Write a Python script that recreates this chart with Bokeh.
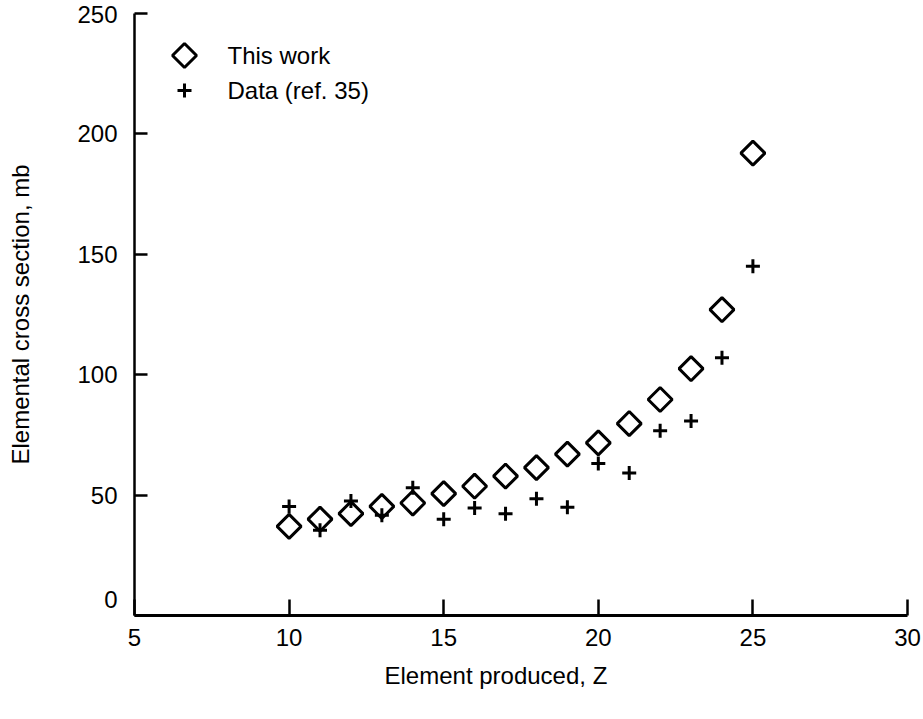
import math
from bokeh.plotting import figure
from bokeh.models import Range1d, FixedTicker, ColumnDataSource, Label, Title
from bokeh.embed import file_html
from bokeh.resources import INLINE

# ---- data ----
z_values = [10, 11, 12, 13, 14, 15, 16, 17, 18, 19, 20, 21, 22, 23, 24, 25]
this_work = [37.0, 40.0, 42.3, 45.3, 46.7, 50.6, 53.7, 57.9, 61.4, 67.0, 71.7, 79.7, 89.7, 102.5, 127.0, 192.0]
data_ref35 = [45.3, 35.4, 47.5, 41.6, 53.1, 40.0, 44.6, 42.3, 48.5, 45.0, 63.1, 59.2, 76.7, 80.8, 107.0, 145.0]
x_ticks = [5, 10, 15, 20, 25, 30]
y_ticks = [0, 50, 100, 150, 200, 250]
x_label = "Element produced, Z"
y_label = "Elemental cross section, mb"
series_names = ["This work", "Data (ref. 35)"]

FONT = "Liberation Sans"
FRAME_W, FRAME_H = 773, 602

p = figure(width=923, height=719, output_backend="svg", toolbar_location=None,
           x_range=Range1d(5, 30), y_range=Range1d(0, 250),
           min_border_left=134, min_border_right=16, min_border_top=13, min_border_bottom=104)
p.outline_line_color = None
p.xgrid.visible = False
p.ygrid.visible = False
p.background_fill_color = "white"
p.border_fill_color = "white"

diamond_style = dict(marker="square", angle=math.pi / 4, size=17,
                     fill_color=None, line_color="black", line_width=3)
plus_style = dict(marker="cross", size=14, line_color="black", line_width=3)

src = ColumnDataSource(dict(z=z_values, tw=this_work, dr=data_ref35))
p.scatter("z", "tw", source=src, **diamond_style)
p.scatter("z", "dr", source=src, **plus_style)

for ax, ticks in ((p.xaxis[0], x_ticks), (p.yaxis[0], y_ticks)):
    ax.ticker = FixedTicker(ticks=ticks)
    ax.minor_tick_line_color = None
    ax.major_tick_out = 0
    ax.axis_line_color = "black"
    ax.major_tick_line_color = "black"
    ax.major_tick_line_width = 2.5
    ax.major_label_text_font = FONT
    ax.major_label_text_font_size = "24px"
    ax.major_label_text_color = "black"
    ax.axis_label_text_font = FONT
    ax.axis_label_text_font_size = "24px"
    ax.axis_label_text_font_style = "normal"
    ax.axis_label_text_color = "black"

p.xaxis[0].major_tick_in = 16
p.xaxis[0].axis_line_width = 3
p.xaxis[0].major_label_standoff = 13

p.yaxis[0].axis_label = y_label
p.yaxis[0].major_tick_in = 13
p.yaxis[0].axis_line_width = 2.5
p.yaxis[0].major_label_standoff = 17
p.yaxis[0].axis_label_standoff = 40
# the "0" label sits slightly above its tick in the reference
p.yaxis[0].major_label_overrides = {y_ticks[0]: f"{y_ticks[0]}\n"}

# x-axis title, below the axis, slightly left of centre as in the reference
p.add_layout(Title(text=x_label, align="left", offset=250, standoff=23,
                   text_font=FONT, text_font_size="24px", text_font_style="normal",
                   text_color="black"), "below")

# ---- legend (upper left), drawn in a pixel coordinate system of the frame ----
p.extra_x_ranges = {"px": Range1d(0, FRAME_W)}
p.extra_y_ranges = {"py": Range1d(0, FRAME_H)}
leg_x = [50]
leg_rows = [560, 525]
p.scatter(x=leg_x, y=[leg_rows[0]], x_range_name="px", y_range_name="py", **diamond_style)
p.scatter(x=leg_x, y=[leg_rows[1]], x_range_name="px", y_range_name="py", **plus_style)
for name, row in zip(series_names, leg_rows):
    p.add_layout(Label(x=93, y=row, x_units="screen", y_units="screen", text=name,
                       text_font=FONT, text_font_size="24px", text_color="black",
                       text_align="left", text_baseline="middle"))

open("out.html", "w").write(file_html(p, INLINE))
